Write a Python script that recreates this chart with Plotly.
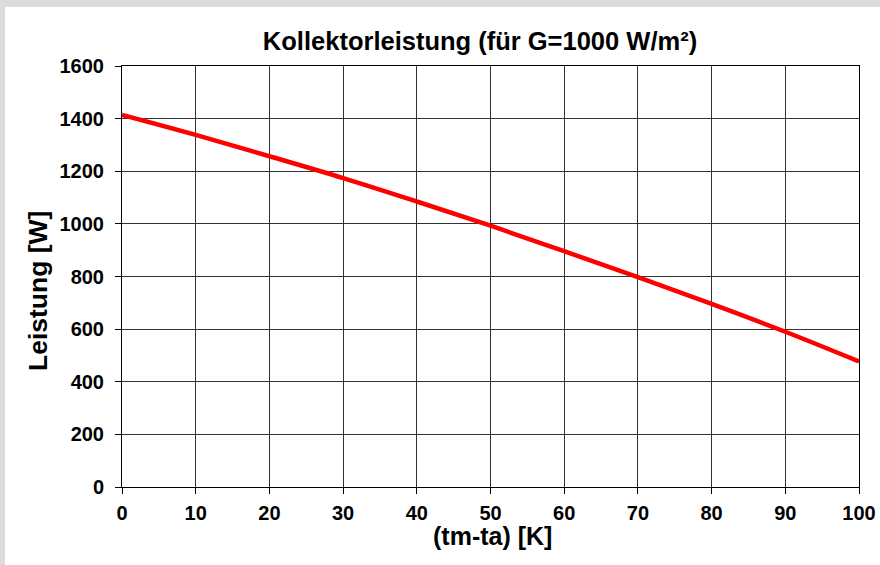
import plotly.graph_objects as go

dT = [0, 10, 20, 30, 40, 50, 60, 70, 80, 90, 100]
leistung = [1414, 1338, 1257, 1174, 1085, 993, 896, 798, 696, 590, 477]
x_ticks = [0, 10, 20, 30, 40, 50, 60, 70, 80, 90, 100]
y_ticks = [0, 200, 400, 600, 800, 1000, 1200, 1400, 1600]

W, H = 880, 565
L, R, T, B = 122, 21, 66, 78
pw, ph = W - L - R, H - T - B

def px2x(p):
    return (p - L) / pw

def py2y(p):
    return 1 - (p - T) / ph

fig = go.Figure()
fig.add_trace(go.Scatter(x=dT, y=leistung, mode="lines", line_shape="spline",
                         line=dict(color="#FF0000", width=4.5), showlegend=False,
                         cliponaxis=False))

font = "Liberation Sans, Arial, sans-serif"
fig.update_layout(
    width=W, height=H,
    margin=dict(l=L, r=R, t=T, b=B, pad=0, autoexpand=False),
    paper_bgcolor="white", plot_bgcolor="white",
    title=dict(text="<b>Kollektorleistung (für G=1000 W/m²)</b>",
               x=480 / W, xanchor="center", y=1 - 41 / H, yanchor="middle",
               font=dict(family=font, size=25.5, color="black")),
    xaxis=dict(range=[0, 100], tickvals=x_ticks, ticktext=[f"<b>{v}</b>" for v in x_ticks],
               automargin=False,
               showgrid=True, gridcolor="#333333", gridwidth=1,
               showline=True, linecolor="black", linewidth=1, mirror=True,
               ticks="outside", ticklen=6, tickcolor="black", ticklabelstandoff=2,
               tickfont=dict(family=font, size=20, color="black"),
               zeroline=False),
    yaxis=dict(range=[0, 1600], tickvals=y_ticks, ticktext=[f"<b>{v}</b>" for v in y_ticks],
               automargin=False,
               showgrid=True, gridcolor="#333333", gridwidth=1,
               showline=True, linecolor="black", linewidth=1, mirror=True,
               ticks="outside", ticklen=6, tickcolor="black", ticklabelstandoff=7,
               tickfont=dict(family=font, size=20, color="black"),
               zeroline=False),
    annotations=[
        dict(text="<b>(tm-ta) [K]</b>", xref="paper", yref="paper",
             x=px2x(492), y=py2y(535.5), xanchor="center", yanchor="middle",
             showarrow=False, font=dict(family=font, size=25, color="black")),
        dict(text="<b>Leistung [W]</b>", xref="paper", yref="paper",
             x=px2x(37.5), y=py2y(291.5), xanchor="center", yanchor="middle",
             textangle=-90, showarrow=False,
             font=dict(family=font, size=26.5, color="black")),
    ],
    shapes=[
        dict(type="rect", xref="paper", yref="paper", layer="below",
             x0=px2x(0), x1=px2x(W), y0=py2y(0), y1=py2y(7),
             fillcolor="#DCDCDC", line=dict(width=0)),
        dict(type="rect", xref="paper", yref="paper", layer="below",
             x0=px2x(0), x1=px2x(5), y0=py2y(0), y1=py2y(H),
             fillcolor="#DCDCDC", line=dict(width=0)),
    ],
)

fig.write_html("out.html", config={"displayModeBar": False},
               post_script="document.body.style.margin='0';document.body.style.padding='0';")
